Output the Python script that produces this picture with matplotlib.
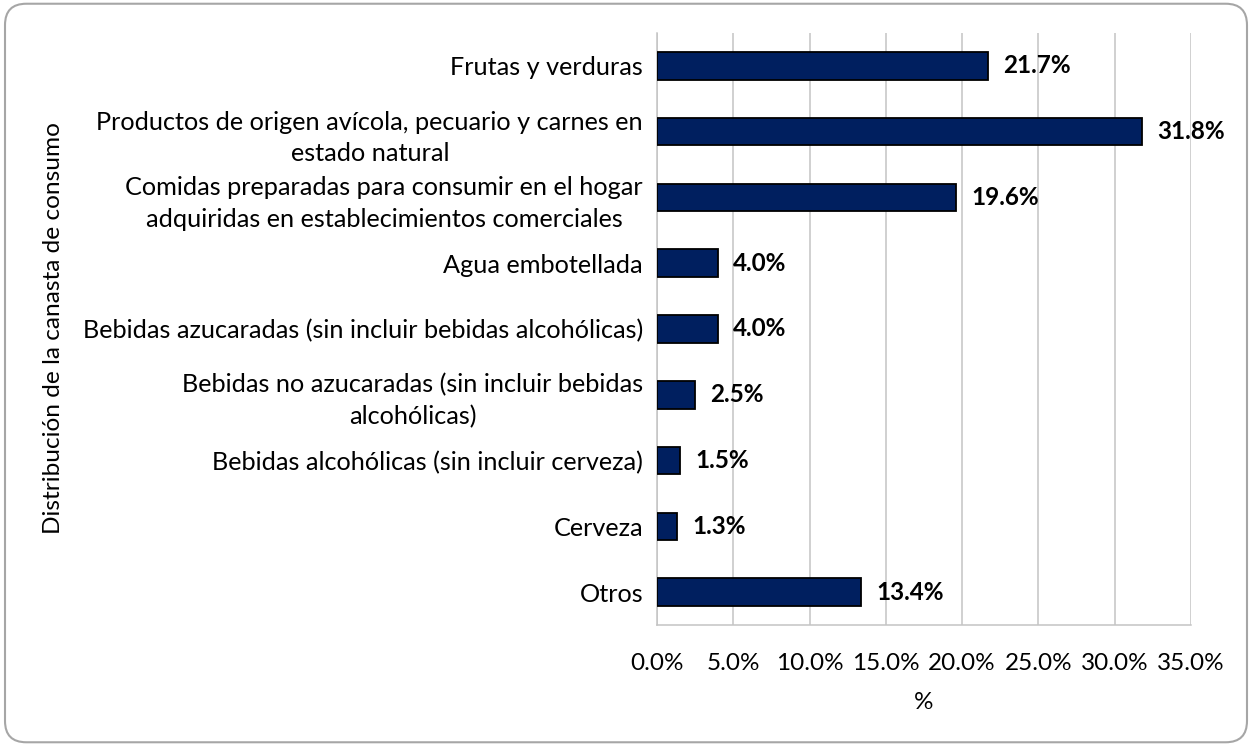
import matplotlib
matplotlib.use("Agg")
import matplotlib.pyplot as plt
from matplotlib.patches import FancyBboxPatch
from matplotlib.ticker import FuncFormatter

categories = [
    "Frutas y verduras",
    "Productos de origen avícola, pecuario y carnes en\nestado natural",
    "Comidas preparadas para consumir en el hogar\nadquiridas en establecimientos comerciales",
    "Agua embotellada",
    "Bebidas azucaradas (sin incluir bebidas alcohólicas)",
    "Bebidas no azucaradas (sin incluir bebidas\nalcohólicas)",
    "Bebidas alcohólicas (sin incluir cerveza)",
    "Cerveza",
    "Otros",
]
values = [21.7, 31.8, 19.6, 4.0, 4.0, 2.5, 1.5, 1.3, 13.4]
xticks = [0, 5, 10, 15, 20, 25, 30, 35]

plt.rcParams['font.family'] = ['Lato', 'DejaVu Sans']

W, H = 1252, 746
fig = plt.figure(figsize=(W / 100, H / 100), dpi=100)
left, right, bottom, top = 657, 1191, 625, 33
ax = fig.add_axes([left / W, 1 - bottom / H, (right - left) / W, (bottom - top) / H])

border = FancyBboxPatch((0.004, 0.005), 0.992, 0.99,
                        boxstyle="round,pad=0,rounding_size=0.017",
                        transform=fig.transFigure, fill=False,
                        edgecolor="#a6a6a6", linewidth=1.5, mutation_aspect=W / H)
fig.patches.append(border)

y = list(range(len(categories)))
ax.barh(y, values, height=0.42, color="#001f5f", edgecolor="black", linewidth=1.3, zorder=3)
for yi, v in zip(y, values):
    ax.text(v + 1.0, yi, f"{v:.1f}%", va="center", ha="left", fontsize=17.5,
            fontweight="bold", color="black")

ax.set_ylim(len(categories) - 0.5, -0.5)
ax.set_xlim(0, 35)
ax.set_xticks(xticks)
ax.xaxis.set_major_formatter(FuncFormatter(lambda v, p: f"{v:.1f}%"))
ax.set_yticks(y)
ax.set_yticklabels(categories, fontsize=18.2, ha="right", multialignment="center",
                   linespacing=1.45)
ax.tick_params(axis="x", length=0, pad=20, labelsize=17.5)
ax.tick_params(axis="y", length=0, pad=10)
ax.grid(axis="x", color="#c4c4c4", linewidth=1.1, zorder=0)
for s in ["top", "right"]:
    ax.spines[s].set_visible(False)
for s in ["left", "bottom"]:
    ax.spines[s].set_color("#c4c4c4")
    ax.spines[s].set_linewidth(1.1)
ax.set_xlabel("%", fontsize=17.5, labelpad=13)
fig.text(54 / W, 1 - 328.5 / H, "Distribución de la canasta de consumo", rotation=90,
         va="center", ha="center", fontsize=17.6)

fig.savefig("out.png", dpi=100)
